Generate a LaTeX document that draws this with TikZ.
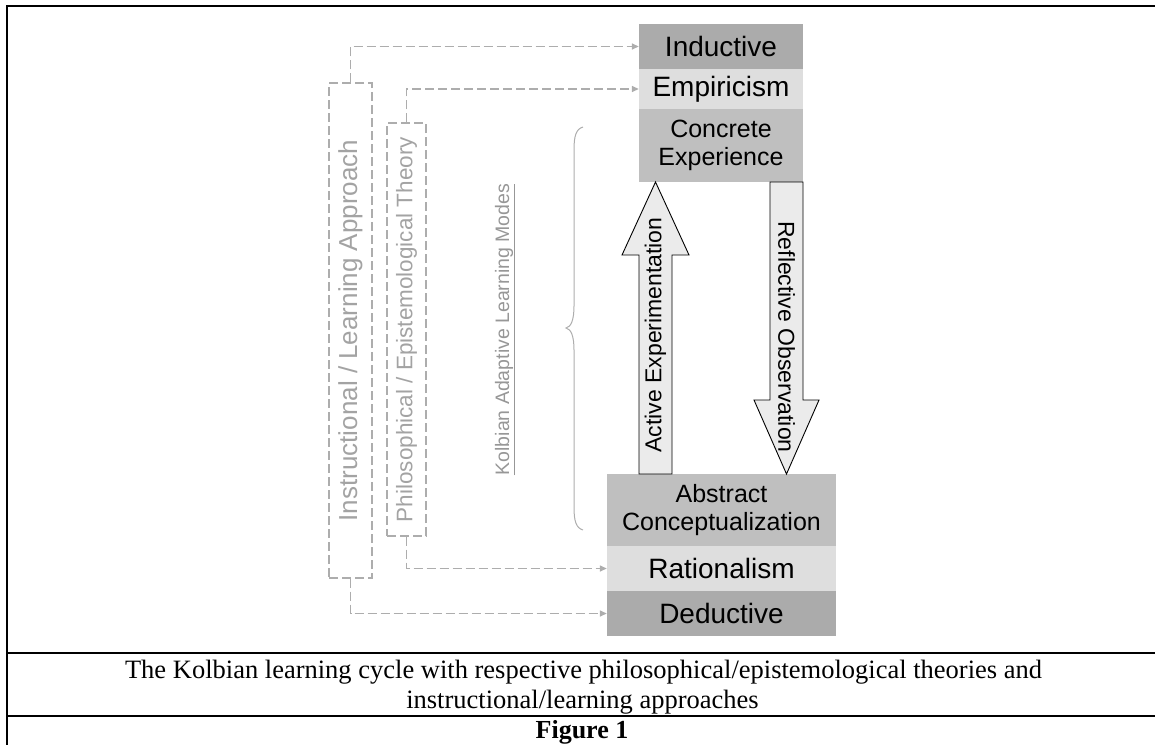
\documentclass[tikz,border=0pt]{standalone}
\usepackage{fontspec}
\setmainfont{Liberation Serif}
\newfontfamily\arialf{Liberation Sans}
\usetikzlibrary{arrows.meta}
\definecolor{cInd}{HTML}{ABABAB}
\definecolor{cEmp}{HTML}{DEDEDE}
\definecolor{cCon}{HTML}{BFBFBF}
\definecolor{cDash}{HTML}{ADADAD}
\definecolor{cGtxt}{HTML}{A3A3A3}
\definecolor{cKolb}{HTML}{979797}
\definecolor{cArr}{HTML}{EBEBEB}
\begin{document}
\begin{tikzpicture}[x=1pt,y=-1pt,
  stackbox/.style={inner sep=0pt, align=center, text=black},
  bigtxt/.style={font=\arialf\fontsize{28}{30}\selectfont},
  twotxt/.style={font=\arialf\fontsize{25}{28}\selectfont},
  topbox/.style={stackbox, minimum width=164pt},
  botbox/.style={stackbox, minimum width=229pt},
  dbox/.style={draw=cDash, line width=1.4pt, dash pattern=on 9pt off 4pt, inner sep=0pt},
  conn/.style={draw=cDash, line width=1.4pt, dash pattern=on 9pt off 4pt, -{Triangle[length=7pt,width=6pt,fill=cDash]}},
  vtxt/.style={inner sep=0pt, text=cGtxt},
  blockarrow/.style={draw=black, line width=0.9pt, fill=cArr, line join=miter},
  arrtxt/.style={inner sep=0pt, font=\arialf\fontsize{23}{25}\selectfont},
  frame/.style={line width=2pt, draw=black},
  captxt/.style={inner sep=0pt, anchor=base, font=\fontsize{26.5}{30}\selectfont}
]
\useasboundingbox (0,0) rectangle (1155,744);

% table frame
\draw[frame] (1162,6) -- (7,6) -- (7,750);
\draw[frame] (7,653) -- (1162,653);
\draw[frame] (7,716) -- (1162,716);

% top stack
\node[topbox, bigtxt, fill=cInd, minimum height=45pt] (ind) at (721,46.5) {Inductive};
\node[topbox, bigtxt, fill=cEmp, minimum height=40pt] (emp) at (721,89) {Empiricism};
\node[topbox, twotxt, fill=cCon, minimum height=73pt] (conc) at (721,145.5) {Concrete\\Experience};

% bottom stack
\node[botbox, twotxt, fill=cCon, minimum height=72pt] (abs) at (721.5,510) {Abstract\\Conceptualization};
\node[botbox, bigtxt, fill=cEmp, minimum height=45pt] (rat) at (721.5,568.5) {Rationalism};
\node[botbox, bigtxt, fill=cInd, minimum height=45pt] (ded) at (721.5,613.5) {Deductive};

% block arrows
\draw[blockarrow] (655.5,182) -- (689,255) -- (672,255) -- (672,474) -- (639,474) -- (639,255) -- (622,255) -- cycle;
\node[arrtxt, rotate=90] (aet) at (655.5,335) {Active Experimentation};
\draw[blockarrow] (770,182) -- (803,182) -- (803,400) -- (819,400) -- (786.5,474) -- (754,400) -- (770,400) -- cycle;
\node[arrtxt, rotate=-90] (rot) at (786.5,337) {Reflective Observation};

% dashed boxes
\node[dbox, minimum width=43pt, minimum height=495pt] (instr) at (350.5,330.5) {};
\node[vtxt, rotate=90, font=\arialf\fontsize{26}{28}\selectfont] (instrt) at (instr.center) {Instructional / Learning Approach};
\node[dbox, minimum width=39pt, minimum height=413pt] (phil) at (406.5,329.5) {};
\node[vtxt, rotate=90, font=\arialf\fontsize{22.5}{24}\selectfont] (philt) at (phil.center) {Philosophical / Epistemological Theory};

% connectors
\draw[conn] (instr.north) |- (ind.west);
\draw[conn] (phil.north) |- (emp.west);
\draw[conn] (phil.south) |- (rat.west);
\draw[conn] (instr.south) |- (ded.west);

% brace and Kolbian label
\draw[cDash, line width=1pt] (583,127) .. controls (576,129) and (574,136) .. (574,150) -- (574,306)
  .. controls (574,320) and (571,327) .. (566,328) .. controls (571,329) and (574,336) .. (574,350)
  -- (574,507) .. controls (574,521) and (576,528) .. (583,530);
\node[vtxt, rotate=90, text=cKolb, font=\arialf\fontsize{19.5}{21}\selectfont] (kolb) at (505,329.5) {\underline{Kolbian Adaptive Learning Modes}};

% caption
\node[captxt] (cap1) at (583.5,678) {The Kolbian learning cycle with respective philosophical/epistemological theories and};
\node[captxt] (cap2) at (582.5,708) {instructional/learning approaches};
\node[captxt, font=\bfseries\fontsize{26}{30}\selectfont] (fig) at (582,738) {Figure 1};
\end{tikzpicture}
\end{document}
